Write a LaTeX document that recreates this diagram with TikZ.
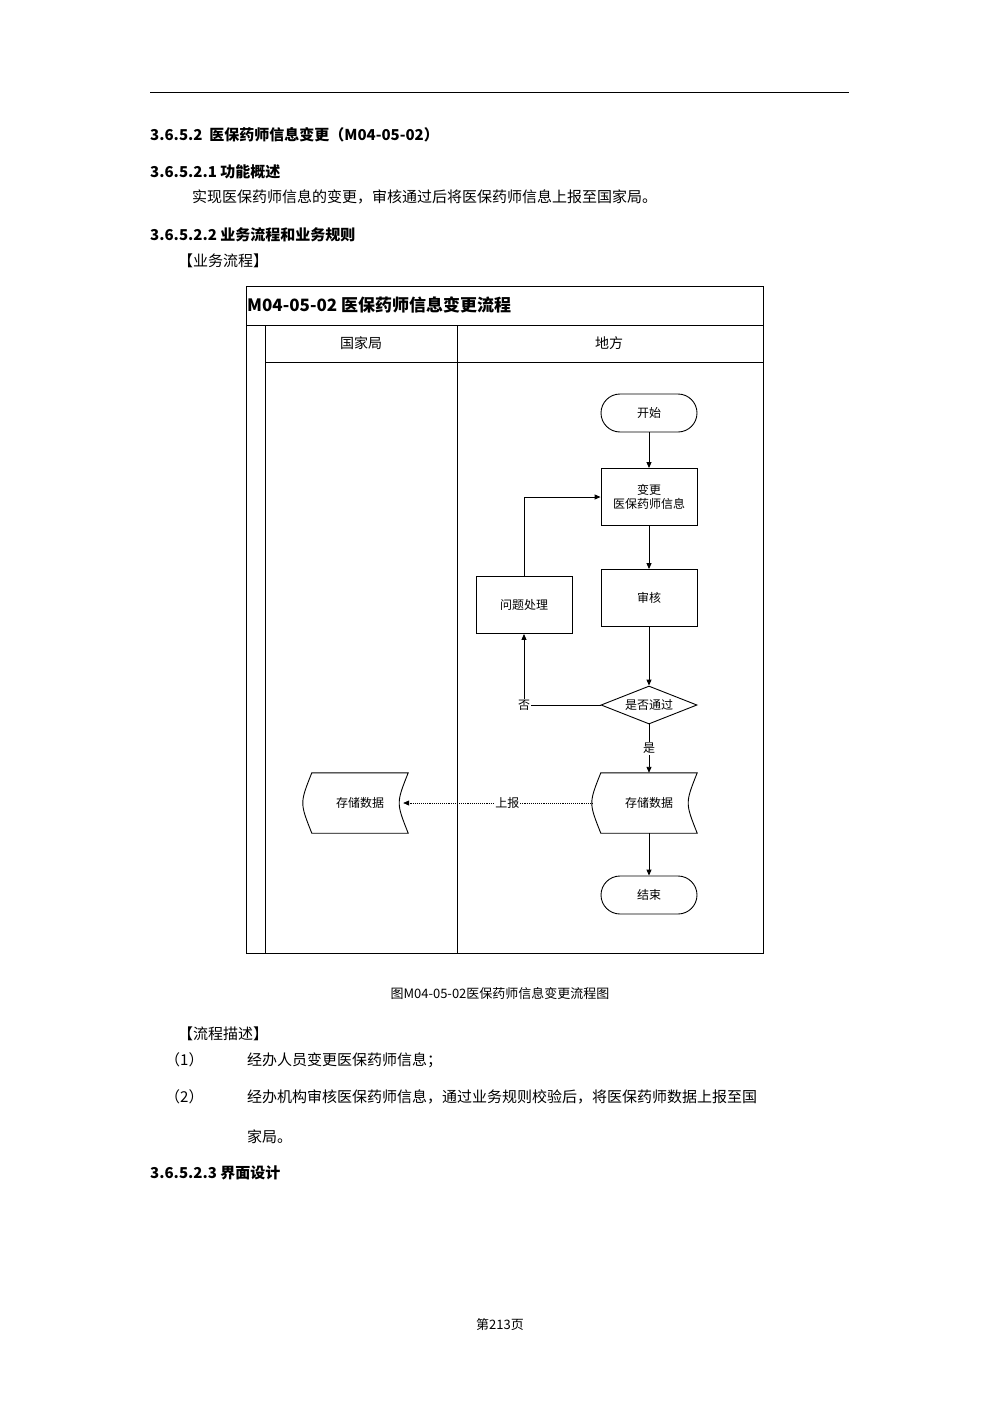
\documentclass[tikz,border=0pt]{standalone}
\usepackage{fontspec}
\setmainfont{Noto Sans CJK SC}
\usetikzlibrary{arrows.meta,shapes.geometric}
\begin{document}
\begin{tikzpicture}[x=1pt,y=-1pt,
  body/.style={anchor=west,inner sep=0pt,font=\fontsize{15}{15}\selectfont},
  head/.style={anchor=west,inner sep=0pt,font=\fontsize{15}{15}\selectfont\bfseries},
  fc/.style={font=\fontsize{12}{14}\selectfont,align=center},
  box/.style={fc,draw,line width=0.9pt,minimum width=96pt,minimum height=57pt,inner sep=1pt},
  term/.style={fc,draw,line width=0.9pt,rounded corners=19pt,minimum width=96pt,minimum height=38pt},
  dia/.style={fc,draw,line width=0.9pt,diamond,aspect=2.5,minimum width=96pt,minimum height=38pt,inner sep=0pt},
  doc/.style={fc,minimum width=96pt,minimum height=60pt},
  arr/.style={-{Triangle[length=6pt,width=5pt]},line width=0.9pt},
  lane/.style={line width=0.9pt}]
\useasboundingbox (0,0) rectangle (1000,1415);
\draw[line width=1pt] (150,93) -- (849,93);
\node[head] (h1) at (150,135) {3.6.5.2\ \ 医保药师信息变更（M04-05-02）};
\node[head] (h2) at (150,172) {3.6.5.2.1 功能概述};
\node[body] (t1) at (192,197) {实现医保药师信息的变更，审核通过后将医保药师信息上报至国家局。};
\node[head] (h3) at (150,235) {3.6.5.2.2 业务流程和业务规则};
\node[body] (t2) at (178,261) {【业务流程】};
% frame
\draw[lane] (246,286) rectangle (763,953);
\draw[lane] (246,325) -- (763,325);
\draw[lane] (265,362) -- (763,362);
\draw[lane] (265,325) -- (265,953);
\draw[lane] (457,325) -- (457,953);
\node[anchor=west,inner sep=0pt,font=\fontsize{17}{17}\selectfont\bfseries] (tt) at (247,305) {M04-05-02 医保药师信息变更流程};
\node[font=\fontsize{14}{14}\selectfont] (l1) at (361,343) {国家局};
\node[font=\fontsize{14}{14}\selectfont] (l2) at (609,343) {地方};
% nodes
\node[term] (start) at (649,413) {开始};
\node[box] (chg) at (649,497) {变更\\医保药师信息};
\node[box] (aud) at (649,598) {审核};
\node[box] (prob) at (524,605) {问题处理};
\node[dia] (dec) at (649,705) {是否通过};
\node[doc] (sr) at (649,803) {存储数据};
\node[doc] (sl) at (360,803) {存储数据};
\foreach \n in {sr,sl}{
  \draw[line width=0.9pt] (\n.north west) .. controls ([xshift=-12pt]\n.west) .. (\n.south west)
    -- (\n.south east) .. controls ([xshift=-12pt]\n.east) .. (\n.north east) -- cycle;}
\node[term] (end) at (649,895) {结束};
\draw[arr] (start) -- (chg);
\draw[arr] (chg) -- (aud);
\draw[arr] (aud) -- (dec);
\draw[arr] (dec) -- node[fill=white,inner sep=1pt,fc,pos=0.5] {是} (sr);
\draw[arr] (sr) -- (end);
\draw[arr] (dec.west) -- (prob.south |- dec.west) node[fill=white,inner sep=1pt,fc] {否} -- (prob.south);
\draw[arr] (prob.north) |- (chg.west);
\draw[arr,densely dotted,line width=0.7pt] ([xshift=-8pt]sr.west) -- node[fill=white,inner sep=1pt,fc,pos=0.45] {上报} ([xshift=-5pt]sl.east);
\node[font=\fontsize{13}{13}\selectfont] (cap) at (500,994) {图M04-05-02医保药师信息变更流程图};
\node[body] (t3) at (178,1034) {【流程描述】};
\node[body] (n1) at (165,1060) {（1）};
\node[body] (d1) at (247,1060) {经办人员变更医保药师信息；};
\node[body] (n2) at (165,1097) {（2）};
\node[body] (d2) at (247,1097) {经办机构审核医保药师信息，通过业务规则校验后，将医保药师数据上报至国};
\node[body] (d3) at (247,1137) {家局。};
\node[head] (h4) at (150,1173) {3.6.5.2.3 界面设计};
\node[font=\fontsize{13}{13}\selectfont] (pg) at (500,1325) {第213页};
\end{tikzpicture}
\end{document}
